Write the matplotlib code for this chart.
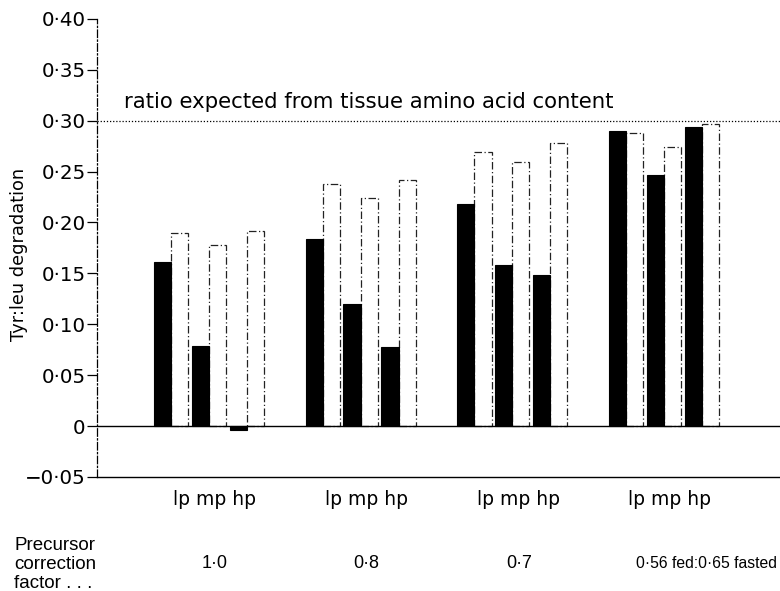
import matplotlib
matplotlib.use("Agg")
import matplotlib.pyplot as plt
from matplotlib.ticker import FixedLocator, FuncFormatter

plt.rcParams['font.family'] = ['DejaVu Sans']

groups = ["1·0", "0·8", "0·7", "0·56 fed:0·65 fasted"]
levels = ["lp", "mp", "hp"]
filled = [[0.161, 0.079, -0.004],
          [0.184, 0.120, 0.078],
          [0.218, 0.158, 0.148],
          [0.290, 0.247, 0.294]]
open_ = [[0.190, 0.178, 0.192],
         [0.238, 0.224, 0.242],
         [0.269, 0.259, 0.278],
         [0.288, 0.274, 0.297]]
expected_ratio = 0.30
yticks = [-0.05, 0, 0.05, 0.10, 0.15, 0.20, 0.25, 0.30, 0.35, 0.40]

fig = plt.figure(figsize=(7.8, 5.91), dpi=100)
ax = fig.add_axes([0.124, 0.193, 0.876, 0.775])

w = 0.45
for g in range(len(groups)):
    for p in range(len(levels)):
        xc = 1.95 + 4 * g + p
        ax.bar(xc - w / 2, filled[g][p], width=w, color='black', edgecolor='black', linewidth=0.8, zorder=3)
        ax.bar(xc + w / 2, open_[g][p], width=w, facecolor='white', edgecolor='#222222',
               linewidth=0.9, linestyle=(0, (6, 2, 1, 2)), zorder=2)

ax.set_xlim(0, 18)
ax.set_ylim(-0.05, 0.40)
ax.axhline(0, color='black', linewidth=1.0, zorder=4)
ax.axhline(expected_ratio, color='black', linewidth=0.9, linestyle=(0, (1, 1.5)), zorder=1)
ax.text(0.72, 0.309, "ratio expected from tissue amino acid content", fontsize=15.3, va='bottom', ha='left')

ax.yaxis.set_major_locator(FixedLocator(yticks))
def fmt(v, pos):
    if abs(v) < 1e-9:
        return "0"
    s = f"{abs(v):.2f}".replace(".", "·")
    return ("−" if v < 0 else "") + s
ax.yaxis.set_major_formatter(FuncFormatter(fmt))
ax.tick_params(axis='y', direction='out', length=7, width=0.9, labelsize=14.3, pad=1)
ax.set_xticks([])
ax.set_ylabel("Tyr:leu degradation", fontsize=12.8)
ax.yaxis.set_label_coords(-0.101, 0.485)

for side in ['top', 'right']:
    ax.spines[side].set_visible(False)
ax.spines['left'].set_linestyle((0, (6, 2, 1, 2)))
ax.spines['left'].set_linewidth(0.9)
ax.spines['bottom'].set_linewidth(1.0)

for g in range(len(groups)):
    xc = 1.95 + 4 * g + 1
    ax.text(xc + 0.15, -0.063, "lp mp hp", fontsize=13.5, ha='center', va='top', transform=ax.transData)

fig.text(0.018, 0.045, "Precursor\ncorrection\nfactor . . .", fontsize=13.5, ha='left', va='center',
         linespacing=1.16, family='Liberation Sans')
gxs = [215, 366, 519, 706]
gsz = [13, 13, 13, 11.3]
for g, lab in enumerate(groups):
    fig.text(gxs[g] / 780, 0.047, lab, fontsize=gsz[g], ha='center', va='center', family='Liberation Sans')

fig.savefig("out.png", dpi=100)
